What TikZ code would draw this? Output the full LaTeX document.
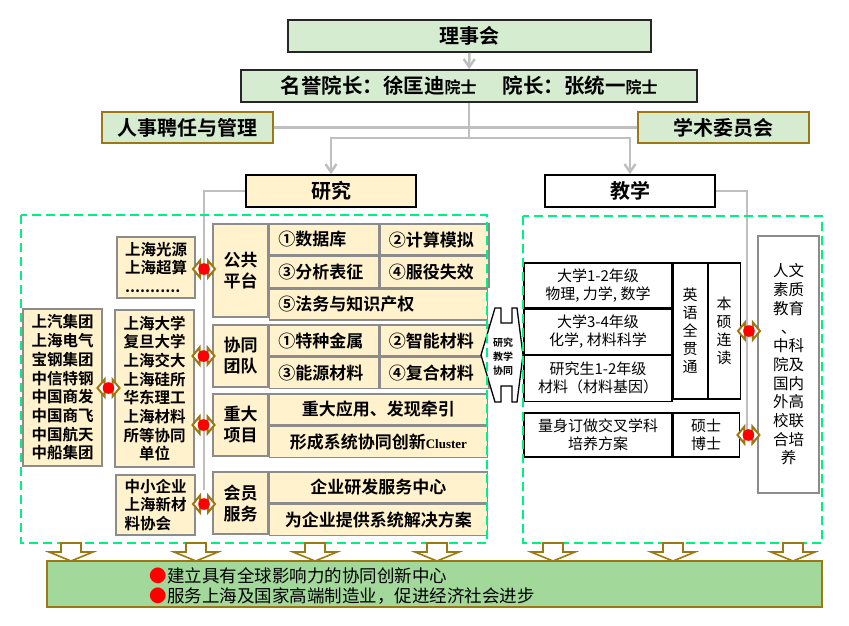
\documentclass[tikz,border=0pt]{standalone}
\usepackage{fontspec}
\setmainfont{Noto Sans CJK SC}[BoldFont={Noto Sans CJK SC Bold}]
\newfontfamily\lserif{Liberation Serif}
\usetikzlibrary{positioning,arrows.meta,calc}
\newcommand{\zh}[2]{\fontsize{#1}{#2}\selectfont}
\definecolor{lvse}{RGB}{214,236,208}
\definecolor{qianhuang}{RGB}{255,242,204}
\definecolor{ganlan}{RGB}{156,120,18}
\definecolor{huixian}{RGB}{191,191,191}
\definecolor{kuanghui}{RGB}{140,140,140}
\definecolor{xulv}{RGB}{0,240,130}
\definecolor{dilv}{RGB}{163,216,155}
\tikzset{
  kuang/.style={draw,inner sep=0pt,align=center},
  lvk/.style={kuang,fill=lvse,draw=black!85,line width=1.6pt,minimum height=32pt,font=\bfseries\zh{20}{24}},
  gk/.style={kuang,fill=lvse,draw=ganlan,line width=1.6pt,minimum width=171pt,minimum height=31pt,font=\bfseries\zh{20}{24}},
  yjk/.style={kuang,draw=black,line width=1.6pt,minimum width=170pt,minimum height=32pt,font=\bfseries\zh{20}{24}},
  pt/.style={kuang,fill=qianhuang,draw=kuanghui,line width=1.4pt,minimum height=31pt,font=\bfseries\zh{17}{21}},
  ptl/.style={pt,text width=#1,align=left,inner xsep=9pt},
  dw/.style={kuang,fill=qianhuang,draw=kuanghui,line width=1.4pt,font=\bfseries\zh{15.5}{18.7}},
  bg/.style={kuang,draw=black,fill=white,line width=1.1pt,font=\zh{15}{18}},
  hui/.style={draw=huixian,line width=2.5pt},
  xu/.style={draw=xulv,line width=2.2pt,dash pattern=on 9pt off 5pt},
  lj/.pic={
    \draw[ganlan,fill=white,line width=2pt] (-11,0) -- (-4,-8.5) -- (-4,-4) -- (4,-4) -- (4,-8.5) -- (11,0) -- (4,8.5) -- (4,4) -- (-4,4) -- (-4,8.5) -- cycle;
    \fill[red] (0,0) circle (5.8pt);
  },
  xia/.pic={
    \draw[ganlan,fill=white,line width=1.6pt] (0,0) -- (-22,-9) -- (-10,-9) -- (-10,-18) -- (10,-18) -- (10,-9) -- (22,-9) -- cycle;
  },
}

\begin{document}
\begin{tikzpicture}[x=1pt,y=-1pt,>={Straight Barb[length=8pt,width=11pt]}]
  \useasboundingbox (0,0) rectangle (849,625);
  \node[lvk,minimum width=363pt] (lsh) at (469.5,36) {理事会};
  \node[lvk,minimum width=456pt] (yz) at (469,86) {\zh{20.5}{24}名誉院长：徐匡迪{\zh{16}{16}院士}\hspace{26pt}院长：张统一{\zh{16}{16}院士}};
  \node[gk] (rs) at (187.5,127.5) {人事聘任与管理};
  \node[gk] (xs) at (723.5,127.5) {学术委员会};
  \node[yjk,fill=qianhuang] (yj) at (331,191) {研究};
  \node[yjk,fill=white] (jx) at (630,191) {教学};
  \coordinate (fz) at ($(yz.south)+(0,35)$);
  \draw[hui,->] (lsh) -- (yz);
  \draw[hui] (rs) -- (xs);
  \draw[hui] (yz.south) -- (fz);
  \draw[hui,->] (fz) -| (yj.north);
  \draw[hui,->] (fz) -| (jx.north);
  \draw[hui] (yj.west) -| (204,490);
  \draw[hui] (jx.east) -| (747,433);

  \node[pt,minimum width=55pt,minimum height=93pt] (gg) at (240.5,270.5) {公共\\平台};
  \node[ptl=91pt,anchor=north west] (gg1) at (gg.north east) {①数据库};
  \node[ptl=91pt,anchor=north west] (gg2) at (gg1.north east) {②计算模拟};
  \node[ptl=91pt,anchor=north west] (gg3) at (gg1.south west) {③分析表征};
  \node[ptl=91pt,anchor=north west] (gg4) at (gg3.north east) {④服役失效};
  \node[ptl=200pt,anchor=north west] (gg5) at (gg3.south west) {⑤法务与知识产权};
  \node[pt,minimum width=55pt,minimum height=62pt] (xt) at (240.5,356) {协同\\团队};
  \node[ptl=91pt,anchor=north west] (xt1) at (xt.north east) {①特种金属};
  \node[ptl=91pt,anchor=north west] (xt2) at (xt1.north east) {②智能材料};
  \node[ptl=91pt,anchor=north west] (xt3) at (xt1.south west) {③能源材料};
  \node[ptl=91pt,anchor=north west] (xt4) at (xt3.north east) {④复合材料};
  \node[pt,minimum width=55pt,minimum height=62pt] (zd) at (240.5,425) {重大\\项目};
  \node[pt,minimum width=218pt,anchor=north west] (zd1) at (zd.north east) {重大应用、发现牵引};
  \node[pt,minimum width=218pt,anchor=north west] (zd2) at (zd1.south west) {形成系统协同创新{\lserif\bfseries\zh{13}{13}Cluster}};
  \node[pt,minimum width=55pt,minimum height=62pt] (hy) at (240.5,503) {会员\\服务};
  \node[pt,minimum width=218pt,anchor=north west] (hy1) at (hy.north east) {企业研发服务中心};
  \node[pt,minimum width=218pt,anchor=north west] (hy2) at (hy1.south west) {为企业提供系统解决方案};

  \node[dw,minimum width=78pt,minimum height=61pt,align=left] (gy) at (156,267.5) {上海光源\\上海超算\\...........};
  \node[dw,minimum width=79pt,minimum height=157pt] (sq) at (62.5,387.5) {上汽集团\\上海电气\\宝钢集团\\中信特钢\\中国商发\\中国商飞\\中国航天\\中船集团};
  \node[dw,minimum width=79pt,minimum height=157pt] (sd) at (154.5,388.5) {上海大学\\复旦大学\\上海交大\\上海硅所\\华东理工\\上海材料\\所等协同\\单位};
  \node[dw,minimum width=79pt,minimum height=60pt,align=left] (zx) at (155.5,505) {中小企业\\上海新材\\料协会};
  \pic at ($(gy.east)!.5!(gg.west)$) {lj};
  \pic at ($(sd.east |- xt.west)!.5!(xt.west)$) {lj};
  \pic at ($(sd.east |- zd.west)!.5!(zd.west)$) {lj};
  \pic at ($(zx.east)!.5!(hy.west)$) {lj};
  \pic at ($(sq.east)!.5!(sd.west)$) {lj};

  \node[bg,minimum width=148pt,minimum height=45pt] (r1) at (598,285.5) {大学1-2年级\\物理, 力学, 数学};
  \node[bg,minimum width=148pt,minimum height=45pt,anchor=north] (r2) at (r1.south) {大学3-4年级\\化学, 材料科学};
  \node[bg,minimum width=148pt,minimum height=46pt,anchor=north] (r3) at (r2.south) {研究生1-2年级\\材料（材料基因）};
  \node[bg,minimum width=34pt,minimum height=136pt,anchor=north west] (yy) at (r1.north east) {英\\语\\全\\贯\\通};
  \node[bg,minimum width=32pt,minimum height=136pt,anchor=north west] (bs) at (yy.north east) {本\\硕\\连\\读};
  \node[bg,minimum width=148pt,minimum height=44pt] (r4) at (598,435) {量身订做交叉学科\\培养方案};
  \node[bg,minimum width=66pt,minimum height=44pt,anchor=north west] (ss) at (r4.north east) {硕士\\博士};
  \node[kuang,draw=kuanghui,fill=white,line width=1.6pt,minimum width=61pt,minimum height=257pt,font=\zh{15.5}{18.7}] (rw) at (788.5,364.5) {人文\\素质\\教育\\、\\中科\\院及\\国内\\外高\\校联\\合培\\养};
  \pic at ($(bs.east)!.5!(rw.west |- bs.east)$) {lj};
  \pic at ($(ss.east)!.5!(rw.west |- ss.east)$) {lj};

  \draw[black,fill=white,line width=1.3pt] (481,355) -- (495,308) -- (501,308) -- (501,323) -- (512,323) -- (512,308) -- (517,308) -- (523,355) -- (517,402) -- (512,402) -- (512,386) -- (501,386) -- (501,402) -- (495,402) -- cycle;
  \node[font=\bfseries\zh{10}{14},align=center] (xtjx) at (503,357) {研究\\教学\\协同};

  \draw[xu] (21,215) rectangle (487,543);
  \draw[xu] (523,216) rectangle (822,543);

  \node[kuang,fill=dilv,draw=ganlan,line width=1.8pt,minimum width=775pt,minimum height=46pt] (dk) at (434.5,584) {};
  \node[anchor=west,align=left,font=\zh{17.5}{20}] (dkw) at (146,586) {\textcolor{red}{●}建立具有全球影响力的协同创新中心\\\textcolor{red}{●}服务上海及国家高端制造业，促进经济社会进步};
  \foreach \x in {71,196,315,437,553,673,793}
    \pic at (\x,561) {xia};
\end{tikzpicture}
\end{document}
